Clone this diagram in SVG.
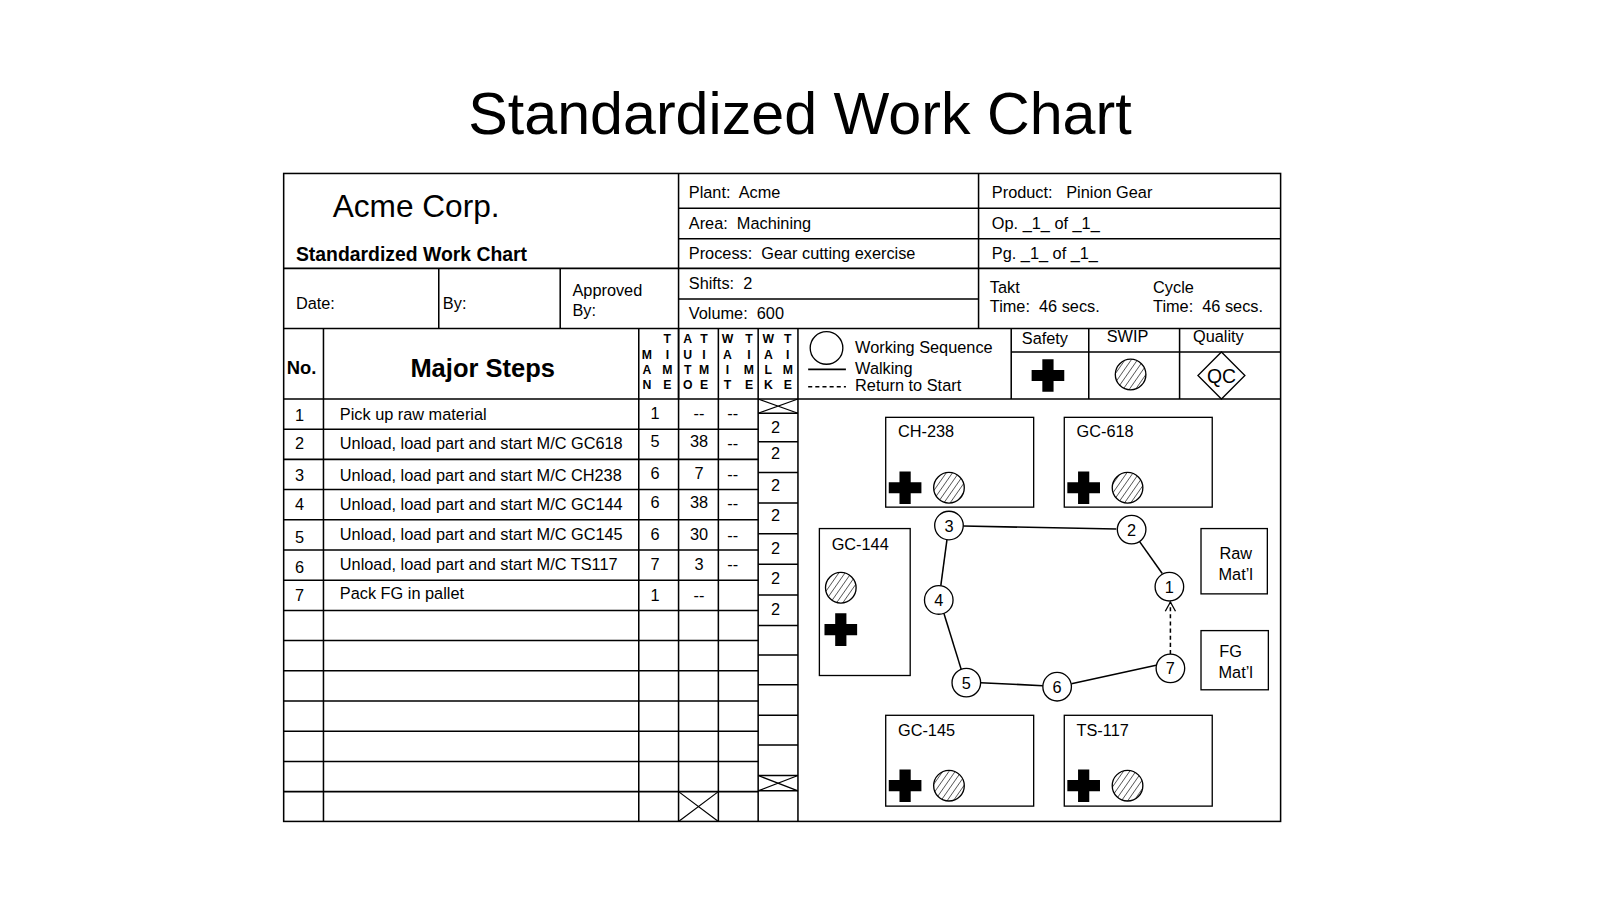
<svg xmlns="http://www.w3.org/2000/svg" width="1600" height="900" viewBox="0 0 1600 900">
<style>
text{font-family:"Liberation Sans",Arial,sans-serif;fill:#000;white-space:pre}
.t{font-size:16px}
.n{font-size:16px}
.b{font-size:12px;font-weight:bold}
.c{text-anchor:middle}
.ln{stroke:#000;stroke-width:1.5;fill:none}
.bx{stroke:#000;stroke-width:1.3;fill:#fff}
.seq{stroke:#000;stroke-width:1.3;fill:#fff}
.hat{fill:url(#hatch);stroke:#000;stroke-width:1.3}
</style>
<defs>
<pattern id="hatch" width="5" height="5" patternUnits="userSpaceOnUse" patternTransform="rotate(35)">
<rect width="5" height="5" fill="#fff"/><line x1="0" y1="0" x2="0" y2="5" stroke="#000" stroke-width="1.1"/>
</pattern>
<path id="cross" d="M-5.5,-16h11v10.5h10.5v11h-10.5v10.5h-11v-10.5h-10.5v-11h10.5z" fill="#000"/>
<marker id="arr" markerWidth="12" markerHeight="12" refX="10" refY="6" orient="auto" markerUnits="userSpaceOnUse">
<path d="M1,1 L10,6 L1,11" fill="none" stroke="#000" stroke-width="1.3"/>
</marker>
</defs>
<rect width="1600" height="900" fill="#fff"/>
<g transform="scale(1.0204)">
<text x="784" y="131" class="c" style="font-size:58px">Standardized Work Chart</text>
<g id="frame" class="ln">
<rect x="278" y="170" width="977" height="635"/>
<path d="M278,263H665M430,263V322M549,263V322M665,170V391M959,170V322M665,204H1255M665,234H1255M665,263H1255M665,293H959M278,322H1255M278,391H1255"/>
<path d="M317,322V805M626,322V805M665,322V805M704,322V805M743,322V805M782,322V805"/>
<path d="M991,322V391M1067,322V391M1156,322V391M991,345H1255"/>
<path d="M278,420.6H743M278,450.2H743M278,479.8H743M278,509.4H743M278,539H743M278,568.6H743M278,598.2H743M278,627.8H743M278,657.4H743M278,687H743M278,716.6H743M278,746.2H743M278,775.8H743"/>
<path d="M743,405H782M743,433H782M743,463H782M743,493H782M743,523H782M743,553H782M743,583H782M743,613H782M743,642H782M743,671H782M743,701H782M743,730H782M743,760H782M743,775H782"/>
<path d="M743,391L782,405M782,391L743,405M743,760L782,775M782,760L743,775M665,775.8L704,805M704,775.8L665,805" stroke-width="1.2"/>
</g>
<g id="header-text">
<text x="326" y="213" style="font-size:31px">Acme Corp.</text>
<text x="290" y="256" style="font-size:19px;font-weight:bold">Standardized Work Chart</text>
<text x="290" y="303" class="t">Date:</text>
<text x="434" y="303" class="t">By:</text>
<text x="561" y="290" class="t">Approved</text>
<text x="561" y="310" class="t">By:</text>
<text x="675" y="194" class="t">Plant:  Acme</text>
<text x="675" y="224" class="t">Area:  Machining</text>
<text x="675" y="254" class="t">Process:  Gear cutting exercise</text>
<text x="675" y="283" class="t">Shifts:  2</text>
<text x="675" y="313" class="t">Volume:  600</text>
<text x="972" y="194" class="t">Product:   Pinion Gear</text>
<text x="972" y="224" class="t">Op. _1_ of _1_</text>
<text x="972" y="254" class="t">Pg. _1_ of _1_</text>
<text x="970" y="287" class="t">Takt</text>
<text x="970" y="306" class="t">Time:  46 secs.</text>
<text x="1130" y="287" class="t">Cycle</text>
<text x="1130" y="306" class="t">Time:  46 secs.</text>
<text x="281" y="367" style="font-size:18px;font-weight:bold">No.</text>
<text x="473" y="369" class="c" style="font-size:25px;font-weight:bold">Major Steps</text>
</g>
<g id="col-heads" class="b c">
<text x="634" y="351.5">M</text><text x="634" y="366.5">A</text><text x="634" y="381.5">N</text>
<text x="654" y="336.5">T</text><text x="654" y="351.5">I</text><text x="654" y="366.5">M</text><text x="654" y="381.5">E</text>
<text x="674" y="336.5">A</text><text x="674" y="351.5">U</text><text x="674" y="366.5">T</text><text x="674" y="381.5">O</text>
<text x="690" y="336.5">T</text><text x="690" y="351.5">I</text><text x="690" y="366.5">M</text><text x="690" y="381.5">E</text>
<text x="713" y="336.5">W</text><text x="713" y="351.5">A</text><text x="713" y="366.5">I</text><text x="713" y="381.5">T</text>
<text x="734" y="336.5">T</text><text x="734" y="351.5">I</text><text x="734" y="366.5">M</text><text x="734" y="381.5">E</text>
<text x="753" y="336.5">W</text><text x="753" y="351.5">A</text><text x="753" y="366.5">L</text><text x="753" y="381.5">K</text>
<text x="772" y="336.5">T</text><text x="772" y="351.5">I</text><text x="772" y="366.5">M</text><text x="772" y="381.5">E</text>
</g>
<g id="legend">
<circle cx="810" cy="341" r="16" class="seq"/>
<text x="838" y="346" class="t">Working Sequence</text>
<line x1="792" y1="362" x2="829" y2="362" class="ln" stroke-width="1.2"/>
<text x="838" y="367" class="t">Walking</text>
<line x1="792" y1="379" x2="829" y2="379" class="ln" stroke-width="1.2" stroke-dasharray="4,3"/>
<text x="838" y="383" class="t">Return to Start</text>
<text x="1024" y="337" class="t c">Safety</text>
<text x="1105" y="335" class="t c">SWIP</text>
<text x="1194" y="335" class="t c">Quality</text>
<use href="#cross" x="1027" y="368"/>
<circle cx="1108" cy="367" r="15" class="hat"/>
<path d="M1197,345L1220,368L1197,391L1174,368Z" class="bx"/>
<text x="1197" y="375" class="c" style="font-size:19px">QC</text>
</g>
<g id="rows" class="t">
<text x="289" y="413">1</text><text x="333" y="412">Pick up raw material</text>
<text x="289" y="440">2</text><text x="333" y="440">Unload, load part and start M/C GC618</text>
<text x="289" y="471">3</text><text x="333" y="471">Unload, load part and start M/C CH238</text>
<text x="289" y="500">4</text><text x="333" y="500">Unload, load part and start M/C GC144</text>
<text x="289" y="532">5</text><text x="333" y="529">Unload, load part and start M/C GC145</text>
<text x="289" y="562">6</text><text x="333" y="559">Unload, load part and start M/C TS117</text>
<text x="289" y="589">7</text><text x="333" y="587">Pack FG in pallet</text>
</g>
<g id="values" class="n c">
<text x="642" y="411">1</text><text x="685" y="411">--</text><text x="718" y="411">--</text>
<text x="642" y="438">5</text><text x="685" y="438">38</text><text x="718" y="440">--</text>
<text x="642" y="469">6</text><text x="685" y="469">7</text><text x="718" y="470">--</text>
<text x="642" y="498">6</text><text x="685" y="498">38</text><text x="718" y="499">--</text>
<text x="642" y="529">6</text><text x="685" y="529">30</text><text x="718" y="530">--</text>
<text x="642" y="559">7</text><text x="685" y="559">3</text><text x="718" y="559">--</text>
<text x="642" y="589">1</text><text x="685" y="589">--</text>
<text x="760" y="424">2</text><text x="760" y="450">2</text><text x="760" y="481">2</text>
<text x="760" y="511">2</text><text x="760" y="543">2</text><text x="760" y="572">2</text><text x="760" y="603">2</text>
</g>
<g id="machines" class="t">
<g id="ch238"><rect x="868" y="409" width="145" height="88" class="bx"/><text x="880" y="428">CH-238</text><use href="#cross" x="887" y="478"/><circle cx="930" cy="478" r="15" class="hat"/></g>
<g id="gc618"><rect x="1043" y="409" width="145" height="88" class="bx"/><text x="1055" y="428">GC-618</text><use href="#cross" x="1062" y="478"/><circle cx="1105" cy="478" r="15" class="hat"/></g>
<g id="gc144"><rect x="803" y="518" width="89" height="144" class="bx"/><text x="815" y="539">GC-144</text><circle cx="824" cy="576" r="15" class="hat"/><use href="#cross" x="824" y="617"/></g>
<g id="gc145"><rect x="868" y="701" width="145" height="89" class="bx"/><text x="880" y="721">GC-145</text><use href="#cross" x="887" y="770"/><circle cx="930" cy="770" r="15" class="hat"/></g>
<g id="ts117"><rect x="1043" y="701" width="145" height="89" class="bx"/><text x="1055" y="721">TS-117</text><use href="#cross" x="1062" y="770"/><circle cx="1105" cy="770" r="15" class="hat"/></g>
<g id="raw"><rect x="1177" y="518" width="65" height="64" class="bx"/><text x="1211" y="548" class="c">Raw</text><text x="1211" y="568" class="c">Mat’l</text></g>
<g id="fg"><rect x="1177" y="618" width="66" height="58" class="bx"/><text x="1206" y="644" class="c">FG</text><text x="1211" y="664" class="c">Mat’l</text></g>
</g>
<g id="connectors" class="ln" stroke-width="1.3">
<line x1="944" y1="515.5" x2="1094" y2="518.5"/>
<line x1="1117" y1="531" x2="1139" y2="562"/>
<line x1="928" y1="529" x2="922" y2="574"/>
<line x1="925" y1="601" x2="942" y2="656"/>
<line x1="961" y1="669" x2="1022" y2="672"/>
<line x1="1050" y1="670" x2="1133" y2="652"/>
<line x1="1147" y1="641" x2="1147" y2="590" stroke-dasharray="4,3" marker-end="url(#arr)"/>
</g>
<g id="seq" class="c">
<circle cx="930" cy="515" r="14" class="seq"/><text x="930" y="521" class="t c">3</text>
<circle cx="1109" cy="519" r="14" class="seq"/><text x="1109" y="525" class="t c">2</text>
<circle cx="1146" cy="575" r="14" class="seq"/><text x="1146" y="581" class="t c">1</text>
<circle cx="920" cy="588" r="14" class="seq"/><text x="920" y="594" class="t c">4</text>
<circle cx="947" cy="669" r="14" class="seq"/><text x="947" y="675" class="t c">5</text>
<circle cx="1036" cy="673" r="14" class="seq"/><text x="1036" y="679" class="t c">6</text>
<circle cx="1147" cy="655" r="14" class="seq"/><text x="1147" y="661" class="t c">7</text>
</g>
</g>
</svg>
